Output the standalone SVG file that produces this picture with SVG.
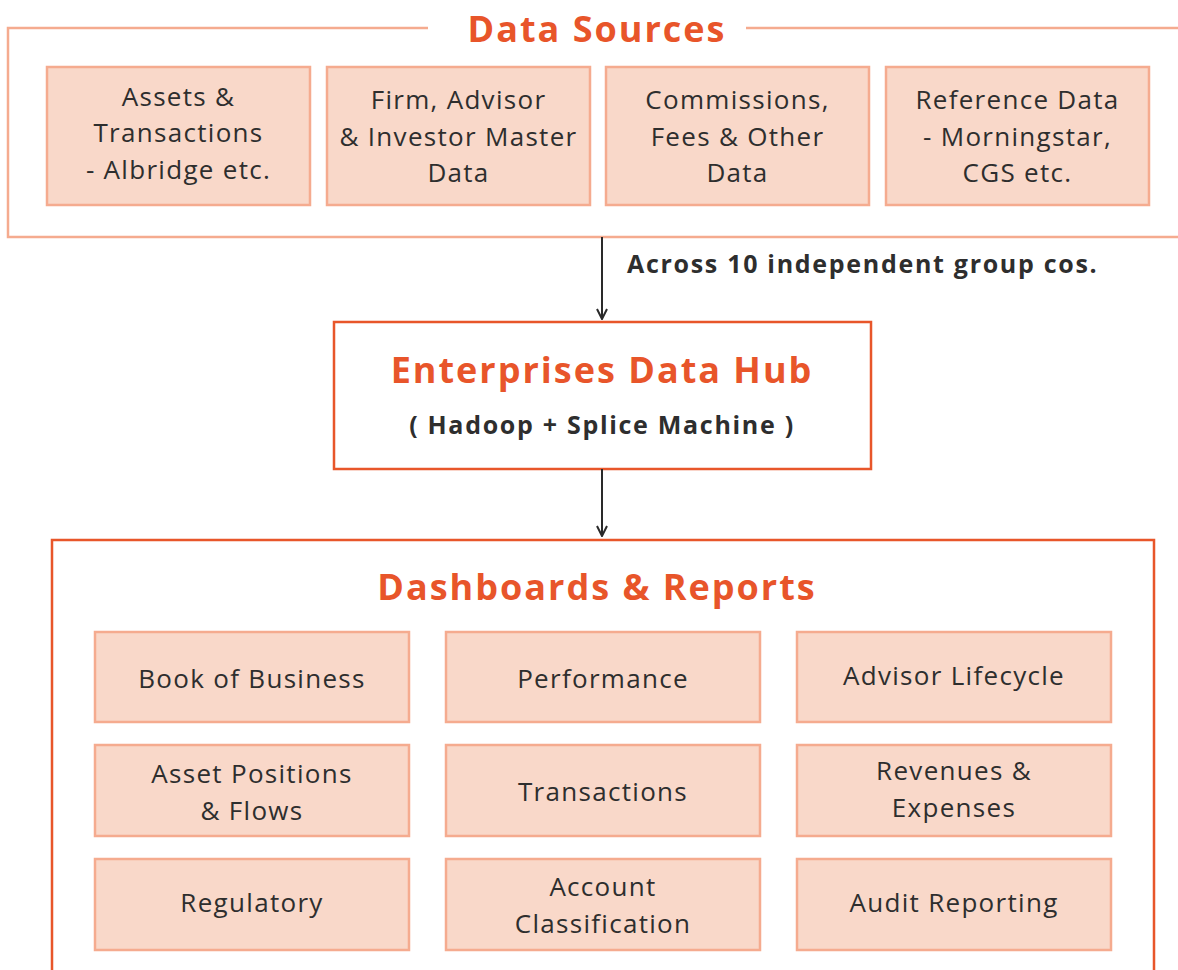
<svg xmlns="http://www.w3.org/2000/svg" width="1178" height="970" viewBox="0 0 1178 970">
<defs>
<style>
.t{font-family:"Open Sans","Liberation Sans",sans-serif;fill:#2e2e2e;text-anchor:middle}
.box{font-size:26px;letter-spacing:1.3px}
.h{font-family:"Open Sans","Liberation Sans",sans-serif;font-weight:700;fill:#E8552A;text-anchor:middle;font-size:36px;letter-spacing:2px}
.b{font-weight:700;font-size:25px;letter-spacing:1.7px}
.src{fill:#F9D8C9;stroke:#F5AB8F;stroke-width:2.5}
.frameA{fill:none;stroke:#F5AB8F;stroke-width:2.5}
.frameB{fill:none;stroke:#E8562A;stroke-width:2.5}
.conn{stroke:#2a2a2a;stroke-width:2;fill:none}
</style>
<marker id="ah" viewBox="0 0 12 12" refX="11" refY="6" markerWidth="12" markerHeight="12" markerUnits="userSpaceOnUse" orient="auto">
<path d="M1,1 L11,6 L1,11" fill="none" stroke="#2a2a2a" stroke-width="2"/>
</marker>
</defs>
<rect width="1178" height="970" fill="#fff"/>

<g id="data-sources">
<path class="frameA" d="M428,28 H8 V237 H1180 M746,28 H1180"/>
<text class="h" x="597" y="42">Data Sources</text>
</g>

<g id="src-assets">
<rect class="src" x="47" y="67" width="263" height="138"/>
<text class="t box" x="178.5" y="106">Assets &amp;</text>
<text class="t box" x="178.5" y="142">Transactions</text>
<text class="t box" x="178.5" y="179">- Albridge etc.</text>
</g>
<g id="src-firm">
<rect class="src" x="327" y="67" width="263" height="138"/>
<text class="t box" x="458.5" y="109">Firm, Advisor</text>
<text class="t box" x="458.5" y="146">&amp; Investor Master</text>
<text class="t box" x="458.5" y="182">Data</text>
</g>
<g id="src-commissions">
<rect class="src" x="606" y="67" width="263" height="138"/>
<text class="t box" x="737.5" y="109">Commissions,</text>
<text class="t box" x="737.5" y="146">Fees &amp; Other</text>
<text class="t box" x="737.5" y="182">Data</text>
</g>
<g id="src-reference">
<rect class="src" x="886" y="67" width="263" height="138"/>
<text class="t box" x="1017.5" y="109">Reference Data</text>
<text class="t box" x="1017.5" y="146">- Morningstar,</text>
<text class="t box" x="1017.5" y="182">CGS etc.</text>
</g>

<g id="hub">
<rect x="334" y="322" width="537" height="147" fill="#fff" stroke="#E8562A" stroke-width="2.5"/>
<text class="h" x="602" y="383">Enterprises Data Hub</text>
<text class="t b" x="602" y="434">( Hadoop + Splice Machine )</text>
</g>

<g id="dashboards">
<path class="frameB" d="M52,975 V540 H1154 V975"/>
<text class="h" x="597" y="600">Dashboards &amp; Reports</text>
</g>

<g id="d-book"><rect class="src" x="95" y="632" width="314" height="90"/><text class="t box" x="252" y="688">Book of Business</text></g>
<g id="d-performance"><rect class="src" x="446" y="632" width="314" height="90"/><text class="t box" x="603" y="688">Performance</text></g>
<g id="d-advisor"><rect class="src" x="797" y="632" width="314" height="90"/><text class="t box" x="954" y="685">Advisor Lifecycle</text></g>
<g id="d-asset"><rect class="src" x="95" y="745" width="314" height="91"/><text class="t box" x="252" y="783">Asset Positions</text><text class="t box" x="252" y="820">&amp; Flows</text></g>
<g id="d-transactions"><rect class="src" x="446" y="745" width="314" height="91"/><text class="t box" x="603" y="801">Transactions</text></g>
<g id="d-revenues"><rect class="src" x="797" y="745" width="314" height="91"/><text class="t box" x="954" y="780">Revenues &amp;</text><text class="t box" x="954" y="817">Expenses</text></g>
<g id="d-regulatory"><rect class="src" x="95" y="859" width="314" height="91"/><text class="t box" x="252" y="912">Regulatory</text></g>
<g id="d-account"><rect class="src" x="446" y="859" width="314" height="91"/><text class="t box" x="603" y="896">Account</text><text class="t box" x="603" y="933">Classification</text></g>
<g id="d-audit"><rect class="src" x="797" y="859" width="314" height="91"/><text class="t box" x="954" y="912">Audit Reporting</text></g>

<g id="connectors">
<line class="conn" x1="602" y1="237" x2="602" y2="319" marker-end="url(#ah)"/>
<line class="conn" x1="602" y1="469" x2="602" y2="536" marker-end="url(#ah)"/>
<text class="t b" x="627" y="273" style="text-anchor:start">Across 10 independent group cos.</text>
</g>
</svg>
